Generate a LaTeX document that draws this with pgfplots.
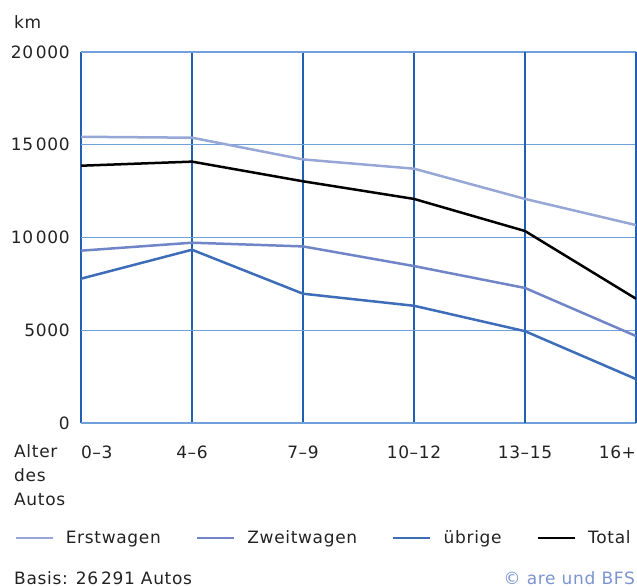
\documentclass[border=0pt]{standalone}
\usepackage{pgfplots}
\pgfplotsset{compat=1.18}
\usepackage{fontspec}
\setmainfont[LetterSpace=4]{DejaVu Sans}
\definecolor{erst}{HTML}{96A6D6}
\definecolor{zweit}{HTML}{6F85C8}
\definecolor{uebrig}{HTML}{3D6CB8}
\definecolor{gridDark}{HTML}{1F60B2}
\definecolor{gridLight}{HTML}{6FA0DA}
\definecolor{copyc}{HTML}{7B93CF}
\definecolor{txt}{HTML}{222222}
\begin{document}
\begin{tikzpicture}[font=\fontsize{17bp}{20bp}\selectfont, text=txt]
\useasboundingbox (0,0) rectangle (637bp,-587bp);
\begin{axis}[
  at={(81bp,-423bp)}, anchor=south west,
  scale only axis, width=555bp, height=371bp,
  xmin=0, xmax=5, ymin=0, ymax=20000,
  scaled y ticks=false,
  axis line style={draw=none},
  major tick length=0pt,
  xtick={0,1,2,3},
  xticklabels={\makebox[0pt][l]{0–3},4–6,7–9,10–12},
  extra x ticks={4,5},
  extra x tick labels={13–15,\makebox[0pt][r]{16+}},
  extra x tick style={grid style={gridLight, line width=1.1bp}},
  xticklabel style={anchor=base, inner sep=0pt, yshift=-35bp},
  ytick={0,5000,10000,15000,20000},
  yticklabels={0,5000,10\,000,15\,000,20\,000},
  yticklabel style={anchor=east, inner sep=0pt, xshift=-11bp},
  xmajorgrids, ymajorgrids,
  x grid style={gridDark, line width=1.1bp},
  y grid style={gridLight, line width=1.1bp},
  tick label style={font=\fontsize{17bp}{20bp}\selectfont},
  legend columns=4,
  legend style={draw=none, fill=none, inner sep=0pt, at={(-0.1205,-0.31)}, anchor=west,
    font=\fontsize{17bp}{20bp}\selectfont,
    nodes={inner sep=0pt},
    /tikz/every odd column/.append style={column sep=12bp},
    /tikz/every even column/.append style={column sep=35bp}},
  legend image code/.code={\draw[#1, line width=2.5bp] (0bp,0bp) -- (37bp,0bp);},
  every axis plot/.append style={line width=2.5bp},
]
\addplot[erst] coordinates {(0,15430) (1,15380) (2,14210) (3,13710) (4,12080) (5,10670)};
\addlegendentry{Erstwagen}
\addplot[zweit] coordinates {(0,9290) (1,9720) (2,9520) (3,8460) (4,7280) (5,4690)};
\addlegendentry{Zweitwagen}
\addplot[uebrig] coordinates {(0,7780) (1,9340) (2,6970) (3,6320) (4,4950) (5,2370)};
\addlegendentry{übrige}
\addplot[black] coordinates {(0,13870) (1,14090) (2,13030) (3,12080) (4,10350) (5,6700)};
\addlegendentry{Total}
\end{axis}
\node[anchor=base west, inner sep=0pt] at (14bp,-28bp) {km};
\node[anchor=base west, inner sep=0pt] at (14bp,-457bp) {Alter};
\node[anchor=base west, inner sep=0pt] at (14bp,-481bp) {des};
\node[anchor=base west, inner sep=0pt] at (14bp,-505bp) {Autos};
\node[anchor=base west, inner sep=0pt] at (14bp,-584bp) {Basis: 26\,291 Autos};
\node[anchor=base east, inner sep=0pt, text=copyc] at (635bp,-584bp) {© are und BFS};
\end{tikzpicture}
\end{document}
